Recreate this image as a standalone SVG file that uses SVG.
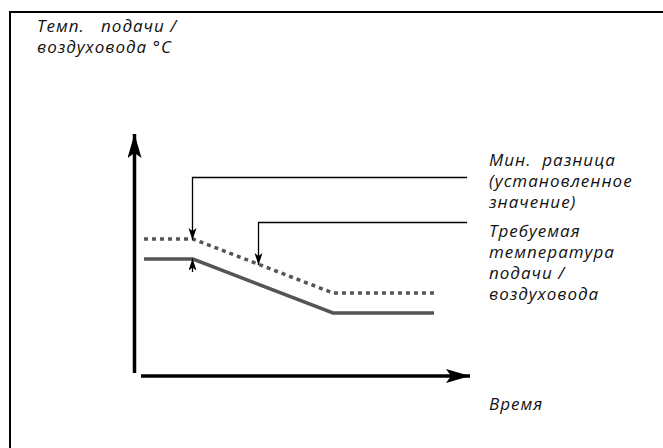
<svg xmlns="http://www.w3.org/2000/svg" width="663" height="448" viewBox="0 0 663 448">
  <style>
    .t { font-family: "Open Sans", "Noto Sans", "DejaVu Sans", sans-serif; font-style: italic; font-size: 17px; letter-spacing: 1px; fill: #111; white-space: pre; }
    .axis { stroke: #000; stroke-width: 3.5; fill: none; }
    .lead { stroke: #000; stroke-width: 1.3; fill: none; }
    .solid { stroke: #555; stroke-width: 3.5; fill: none; }
    .dash { stroke: #555; stroke-width: 3.5; fill: none; stroke-dasharray: 4 4; }
    .frame { stroke: #000; stroke-width: 2; fill: none; }
  </style>
  <defs>
    <marker id="bigArrow" markerUnits="userSpaceOnUse" markerWidth="26" markerHeight="16" refX="24" refY="7" orient="auto">
      <path d="M0,0 L24,7 L0,14 L5,7 Z" fill="#000"/>
    </marker>
    <marker id="smallArrow" markerUnits="userSpaceOnUse" markerWidth="14" markerHeight="10" refX="12" refY="4" orient="auto">
      <path d="M0,0 L12,4 L0,8 L3,4 Z" fill="#000"/>
    </marker>
  </defs>
  <rect width="663" height="448" fill="#fff"/>
  <path class="frame" d="M10,448 V12 H663"/>

  <g id="connectors">
    <line class="axis" x1="134.5" y1="373" x2="134.5" y2="134" marker-end="url(#bigArrow)"/>
    <line class="axis" x1="141" y1="376" x2="470" y2="376" marker-end="url(#bigArrow)"/>
    <polyline class="dash" points="144,239 193,239 333,293 434,293"/>
    <polyline class="solid" points="144,259 193,259 333,313 434,313"/>
    <polyline class="lead" points="467,177.5 192.5,177.5 192.5,240" marker-end="url(#smallArrow)"/>
    <line class="lead" x1="192.5" y1="272" x2="192.5" y2="258.5" marker-end="url(#smallArrow)"/>
    <polyline class="lead" points="467,222.5 258.5,222.5 258.5,265" marker-end="url(#smallArrow)"/>
  </g>

  <g id="label-yaxis">
    <text class="t" x="37" y="32" xml:space="preserve">Темп.   подачи /</text>
    <text class="t" x="37" y="53">воздуховода °C</text>
  </g>
  <g id="label-mindiff">
    <text class="t" x="489" y="166" xml:space="preserve">Мин.  разница</text>
    <text class="t" x="489" y="187">(установленное</text>
    <text class="t" x="489" y="208">значение)</text>
  </g>
  <g id="label-required">
    <text class="t" x="489" y="237">Требуемая</text>
    <text class="t" x="489" y="258">температура</text>
    <text class="t" x="489" y="279" xml:space="preserve">подачи /</text>
    <text class="t" x="489" y="300">воздуховода</text>
  </g>
  <g id="label-time">
    <text class="t" x="489" y="410">Время</text>
  </g>
</svg>
